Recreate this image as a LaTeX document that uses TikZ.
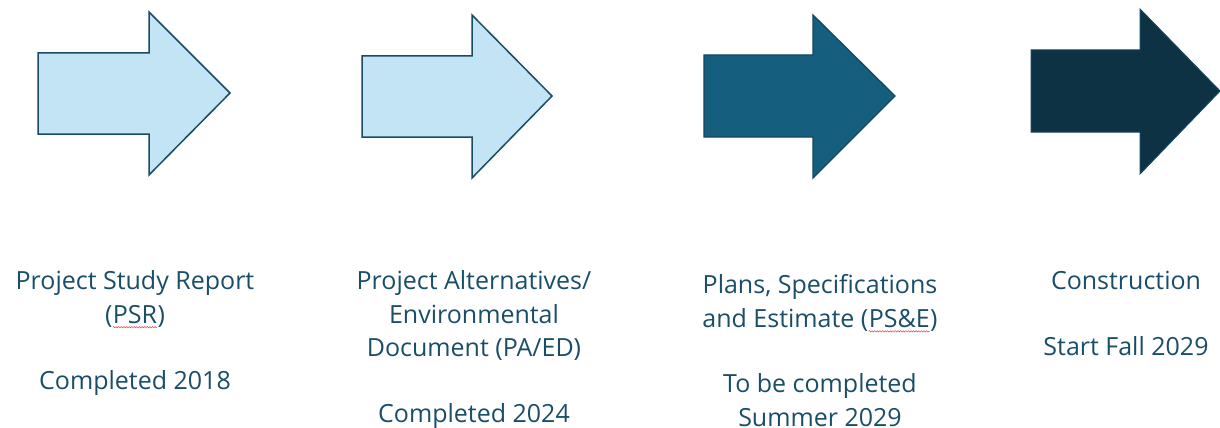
\documentclass[tikz,border=0pt]{standalone}
\usepackage{fontspec}
\setmainfont{Open Sans}
\usetikzlibrary{decorations.pathmorphing}
\definecolor{inktext}{RGB}{26,78,104}
\definecolor{lightfill}{RGB}{194,228,245}
\definecolor{lightedge}{RGB}{25,75,100}
\definecolor{midfill}{RGB}{21,94,126}
\definecolor{midedge}{RGB}{18,72,98}
\definecolor{darkfill}{RGB}{13,50,68}
\definecolor{darkedge}{RGB}{20,70,95}
\definecolor{spellred}{RGB}{230,70,70}
% red wavy mark under a word
\newcommand{\spellmark}[1]{\tikz[baseline=(w.base),x=1pt,y=1pt]{%
  \node[inner sep=0pt,anchor=base] (w) at (0,0) {#1};
  \draw[spellred,line width=0.5pt,decorate,decoration={snake,amplitude=0.7pt,segment length=2.6pt}]
    ([yshift=-4pt]w.base west) -- ([yshift=-4pt]w.base east);}}
% block arrow: style, left x, head base x, tip x, shaft top/bottom y, head top/bottom y, tip y
\newcommand{\stagearrow}[9]{%
  \path[#1] (#2,#5) -- (#3,#5) -- (#3,#7) -- (#4,#9) -- (#3,#8) -- (#3,#6) -- (#2,#6) -- cycle;}
\begin{document}
\begin{tikzpicture}[x=1pt,y=-1pt,
  lightarrow/.style={fill=lightfill,draw=lightedge,line width=1.5pt,line join=miter},
  midarrow/.style={fill=midfill,draw=midedge,line width=1.3pt,line join=miter},
  darkarrow/.style={fill=darkfill,draw=darkedge,line width=1pt,line join=miter},
  stagetext/.style={text=inktext,font=\fontsize{25}{33.5}\selectfont,align=center,inner sep=0pt,anchor=north}]
\useasboundingbox (0,0) rectangle (1220,428);
% the four stages
\stagearrow{lightarrow}{38}{149}{230}{53}{134}{12}{175}{93}
\stagearrow{lightarrow}{362}{472}{552}{56}{137}{15}{178}{96}
\stagearrow{midarrow}{704}{813}{895}{55}{137}{15}{178}{96}
\stagearrow{darkarrow}{1031}{1140}{1220}{50}{132}{9}{174}{91}
% stage captions
\node[stagetext] (psr) at (135,270.5) {Project Study Report\\(\spellmark{PSR})};
\node[stagetext] (psrdone) at (135,370.5) {Completed 2018};
\node[stagetext] (paed) at (474,270.5) {Project Alternatives/\\Environmental\\Document (PA/ED)};
\node[stagetext] (paeddone) at (474,403.5) {Completed 2024};
\node[stagetext] (pse) at (820,274.5) {Plans, Specifications\\and Estimate (\spellmark{PS\&E})};
\node[stagetext] (psedone) at (820,373.5) {To be completed\\Summer 2029};
\node[stagetext] (cons) at (1126,270.5) {Construction};
\node[stagetext] (consstart) at (1126,336.5) {Start Fall 2029};
\end{tikzpicture}
\end{document}
